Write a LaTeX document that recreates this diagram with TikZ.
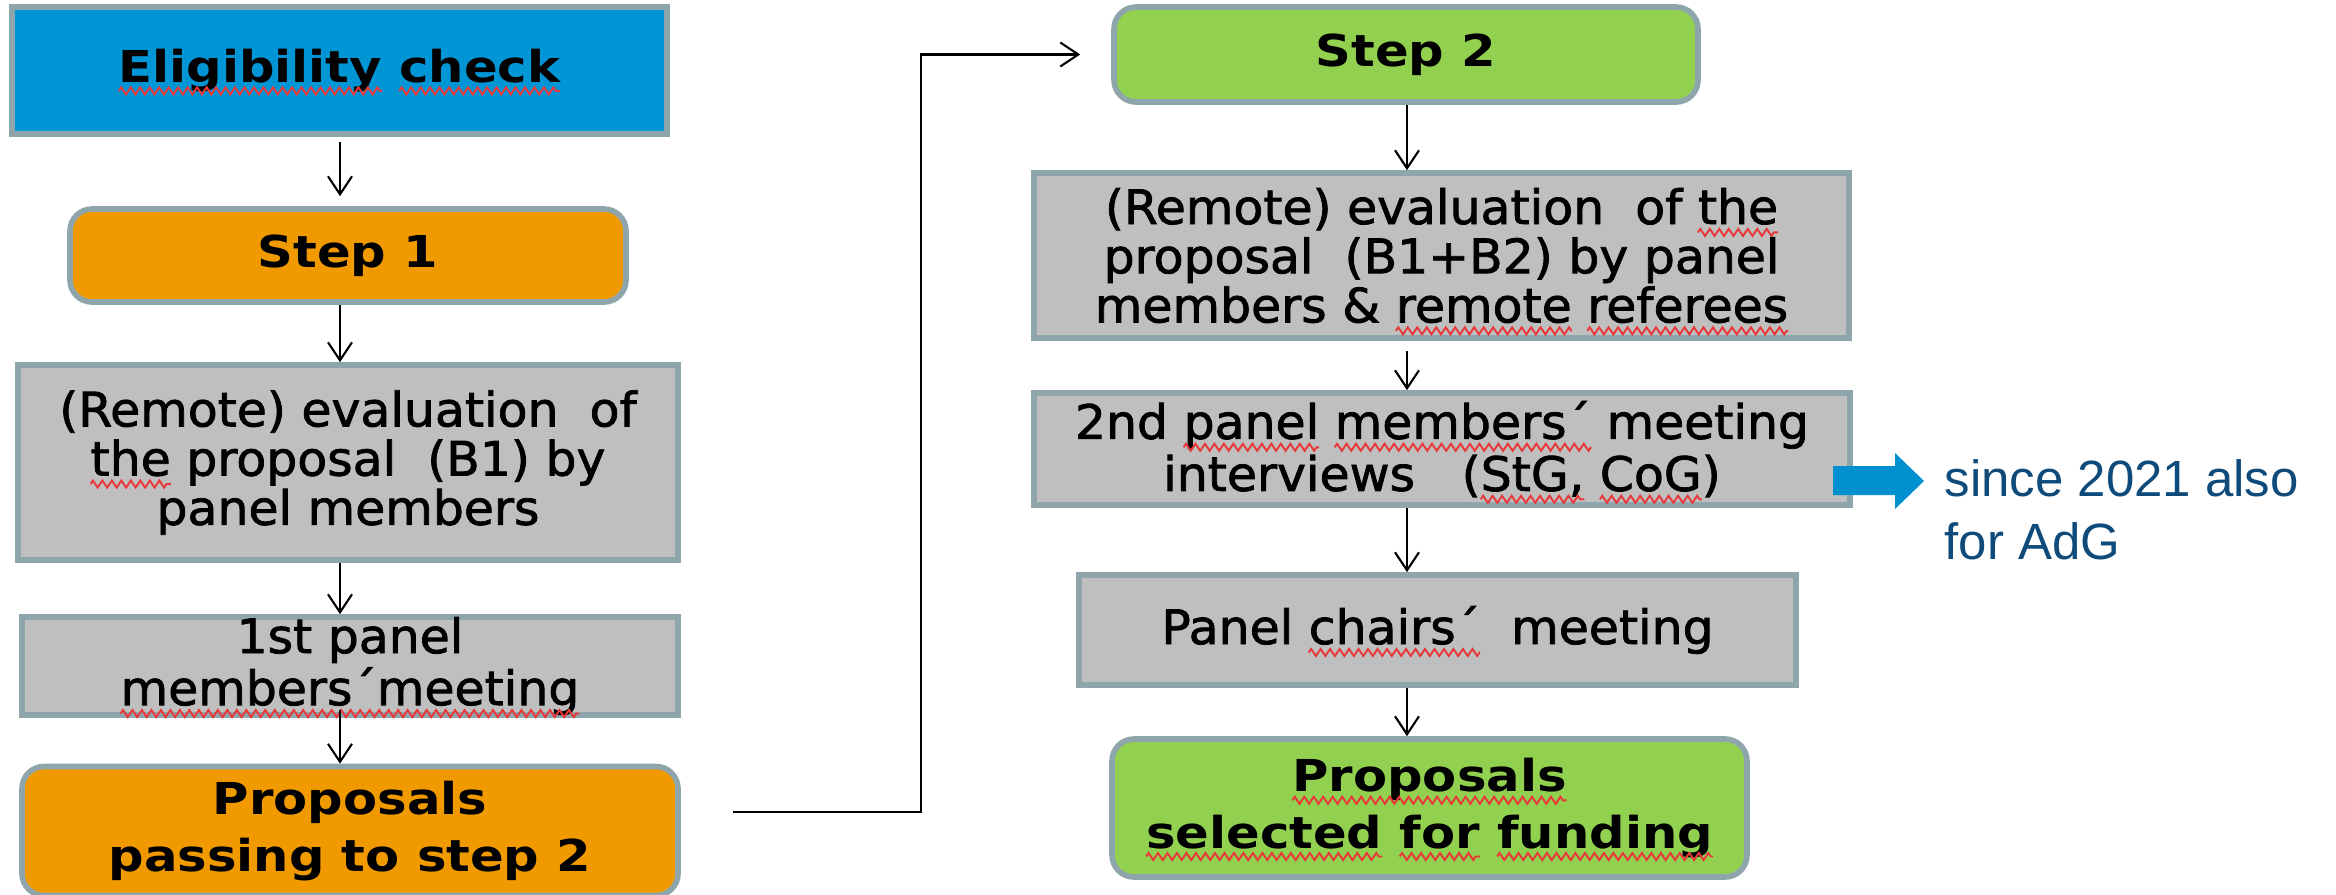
\documentclass[tikz,border=0pt]{standalone}
\usepackage{fontspec}
\setmainfont{DejaVu Sans}[FakeStretch=1.13]
\newfontfamily\greyfont{DejaVu Sans}[FakeStretch=1.03, FakeBold=1.6]
\newfontfamily\notefont{Liberation Sans}
\usepackage{xcolor}
\usetikzlibrary{arrows.meta, decorations.pathmorphing}

\definecolor{eligblue}{HTML}{0096D6}
\definecolor{steporange}{HTML}{F09A00}
\definecolor{stepgreen}{HTML}{92D050}
\definecolor{boxgrey}{HTML}{BFBFBF}
\definecolor{boxline}{HTML}{8EA6AB}
\definecolor{notearrow}{HTML}{0090D0}
\definecolor{notetext}{HTML}{0E4A7A}
\definecolor{spellred}{HTML}{E8383A}

\tikzset{
    box/.style={draw=boxline, line width=1.6pt, align=center, inner sep=0pt},
    greybox/.style={box, fill=boxgrey, font=\greyfont\fontsize{13.5}{14}\selectfont},
    titlebox/.style={box, font=\bfseries\fontsize{12.5}{16}\selectfont},
    stepbox/.style={titlebox, rounded corners=0.22cm},
    link/.style={->, >={Straight Barb[length=1.8mm,width=2.4mm]}, line width=0.6pt},
}

% red wavy underline of the spell checker
\newcommand\spell[1]{\tikz[baseline=(w.base)]{\node[inner sep=0pt, outer sep=0pt, minimum width=0pt, minimum height=0pt, anchor=base] (w) {#1};
    \draw[overlay, sharp corners, spellred, line width=0.55pt, decorate, decoration={zigzag, segment length=2.7pt, amplitude=1pt}] ([yshift=-2.4pt]w.base west) -- ([yshift=-2.4pt]w.base east);}}

\begin{document}
\begin{tikzpicture}
    \useasboundingbox (0,0) rectangle (23.36,-8.94);

    % Left column: first step
    \node[titlebox, fill=eligblue, minimum width=6.55cm, minimum height=1.27cm] (elig) at (3.395,-0.705) {\spell{Eligibility} \spell{check}};
    \node[stepbox, fill=steporange, minimum width=5.56cm, minimum height=0.93cm] (step1) at (3.48,-2.555) {Step 1};
    \node[greybox, minimum width=6.60cm, minimum height=1.95cm] (evalone) at (3.48,-4.625) {(Remote) evaluation\ \ of\\\spell{the} proposal\ \ (B1) by\\panel members};
    \node[greybox, minimum width=6.56cm, minimum height=0.98cm, font=\greyfont\fontsize{13.5}{14.8}\selectfont] (meetone) at (3.50,-6.66) {1st panel\\\spell{members´meeting}};
    \node[stepbox, fill=steporange, minimum width=6.56cm, minimum height=1.29cm] (passing) at (3.50,-8.31) {Proposals\\passing to step 2};

    % Right column: second step
    \node[stepbox, fill=stepgreen, minimum width=5.84cm, minimum height=0.95cm] (step2) at (14.06,-0.545) {Step 2};
    \node[greybox, minimum width=8.15cm, minimum height=1.65cm] (evaltwo) at (14.415,-2.555) {(Remote) evaluation\ \ of \spell{the}\\proposal\ \ (B1+B2) by panel\\members \& \spell{remote} \spell{referees}};
    \node[greybox, minimum width=8.16cm, minimum height=1.12cm, font=\greyfont\fontsize{13.5}{14.8}\selectfont] (meettwo) at (14.42,-4.49) {2nd \spell{panel} \spell{members´} meeting\\interviews\ \ \ (\spell{StG,} \spell{CoG})};
    \node[greybox, minimum width=7.17cm, minimum height=1.10cm] (chairs) at (14.375,-6.30) {Panel \spell{chairs´}\ \ meeting};
    \node[stepbox, fill=stepgreen, minimum width=6.35cm, minimum height=1.38cm] (selected) at (14.295,-8.08) {\spell{Proposals}\\\spell{selected} \spell{for} \spell{funding}};

    % Arrows down the columns
    \coordinate (lx) at (3.40,0);
    \coordinate (rx) at (14.07,0);
    \draw[link, shorten <=0.05cm, shorten >=0.1cm] (elig.south -| lx) -- (step1.north -| lx);
    \draw[link] (step1.south -| lx) -- (evalone.north -| lx);
    \draw[link] (evalone.south -| lx) -- (meetone.north -| lx);
    \draw[link] ([yshift=0.08cm]meetone.south -| lx) -- (passing.north -| lx);
    \draw[link] (step2.south -| rx) -- (evaltwo.north -| rx);
    \draw[link, shorten <=0.1cm] (evaltwo.south -| rx) -- (meettwo.north -| rx);
    \draw[link] (meettwo.south -| rx) -- (chairs.north -| rx);
    \draw[link] (chairs.south -| rx) -- (selected.north -| rx);

    % From step 1 over to step 2
    \draw[link] ([shift={(0.52,0.19)}]passing.east) -| ([xshift=-1.9cm]step2.west) -- ([xshift=-0.31cm]step2.west);

    % Note on the interviews
    \fill[notearrow] (18.33,-4.66) -- (18.95,-4.66) -- (18.95,-4.53) -- (19.24,-4.81) -- (18.95,-5.09) -- (18.95,-4.95) -- (18.33,-4.95) -- cycle;
    \node[anchor=north west, inner sep=0pt, align=left, text=notetext, font=\notefont\fontsize{14.5}{18}\selectfont] (note) at (19.44,-4.59) {since 2021 also\\for AdG};
\end{tikzpicture}
\end{document}
